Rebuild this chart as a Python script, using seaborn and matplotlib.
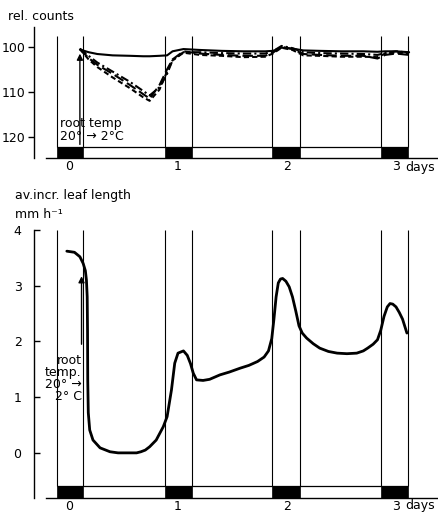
import numpy as np
import pandas as pd
import matplotlib
matplotlib.use("Agg")
import matplotlib.pyplot as plt
import seaborn as sns
from matplotlib.patches import Rectangle

sns.set_theme(style="white")
plt.rcParams['font.family'] = ['DejaVu Sans']
plt.rcParams['text.color'] = 'black'
plt.rcParams['axes.labelcolor'] = 'black'
plt.rcParams['xtick.color'] = 'black'
plt.rcParams['ytick.color'] = 'black'

# ---------------- data ----------------
day_ticks = [0, 1, 2, 3]
day_labels = ["0", "1", "2", "3"]
dark_start = [-0.11, 0.88, 1.865, 2.865]
dark_end = [0.13, 1.13, 2.12, 3.11]

top_days = [0.10, 0.18, 0.26, 0.40, 0.56, 0.68, 0.74, 0.83, 0.90, 0.95, 1.05, 1.20,
            1.40, 1.60, 1.80, 1.87, 1.95, 2.05, 2.15, 2.30, 2.50, 2.70, 2.83, 2.90,
            3.00, 3.12]
counts_solid = [100.6, 101.2, 101.6, 101.9, 102.0, 102.1, 102.1, 102.0, 101.9, 101.0,
                100.5, 100.7, 100.9, 101.0, 101.0, 100.9, 100.2, 100.4, 100.8, 100.9,
                101.0, 101.0, 101.1, 101.0, 101.0, 101.2]
counts_dash1 = [100.5, 102.5, 104.0, 106.0, 108.5, 110.5, 111.5, 108.5, 105.0, 102.8,
                101.0, 101.5, 101.8, 102.0, 102.0, 101.3, 100.0, 100.5, 101.6, 101.8,
                102.0, 102.0, 102.6, 101.8, 101.5, 101.8]
counts_dashdot = [100.4, 102.0, 103.5, 105.5, 107.8, 109.8, 110.8, 109.0, 106.0, 103.0,
                  101.2, 101.2, 101.4, 101.5, 101.5, 101.0, 99.8, 100.3, 101.2, 101.4,
                  101.5, 101.6, 101.8, 101.4, 101.0, 101.3]
counts_dash2 = [100.5, 102.8, 104.5, 106.8, 109.2, 111.2, 112.0, 109.5, 105.5, 103.0,
                101.3, 101.8, 102.0, 102.3, 102.2, 101.5, 100.2, 100.7, 101.9, 102.0,
                102.2, 102.2, 102.3, 101.5, 101.3, 101.5]

leaf_days = [-0.02, 0.05, 0.10, 0.13, 0.15, 0.16, 0.167, 0.170, 0.172, 0.177, 0.19,
             0.22, 0.285, 0.376, 0.45, 0.55, 0.62, 0.66, 0.70, 0.74, 0.80, 0.865, 0.90,
             0.94, 0.97, 1.00, 1.05, 1.085, 1.115, 1.14, 1.17, 1.23, 1.29, 1.385, 1.47,
             1.57, 1.65, 1.73, 1.79, 1.83, 1.86, 1.88, 1.90, 1.92, 1.94, 1.96, 1.99,
             2.02, 2.05, 2.08, 2.11, 2.14, 2.18, 2.24, 2.30, 2.38, 2.46, 2.55, 2.64,
             2.70, 2.74, 2.79, 2.83, 2.86, 2.89, 2.92, 2.945, 2.97, 3.00, 3.03, 3.06,
             3.10]
leaf_rate = [3.62, 3.60, 3.52, 3.40, 3.27, 3.10, 2.80, 2.20, 1.30, 0.72, 0.41,
             0.23, 0.09, 0.02, 0.0, 0.0, 0.0, 0.02, 0.05, 0.11, 0.23, 0.47, 0.65,
             1.13, 1.61, 1.79, 1.83, 1.75, 1.60, 1.43, 1.31, 1.30, 1.32, 1.40, 1.45,
             1.52, 1.57, 1.64, 1.72, 1.83, 2.05, 2.40, 2.80, 3.05, 3.12, 3.13, 3.08,
             2.98, 2.80, 2.55, 2.28, 2.15, 2.06, 1.96, 1.88, 1.82, 1.79, 1.78, 1.79,
             1.83, 1.88, 1.95, 2.03, 2.20, 2.45, 2.62, 2.68, 2.67, 2.62, 2.52, 2.40,
             2.15]

# ---------------- figure ----------------
W, H = 439, 512
fig = plt.figure(figsize=(W / 100, H / 100), dpi=100)
fig.patch.set_facecolor("white")
ax1 = fig.add_axes([46 / W, 1 - 158 / H, (437 - 46) / W, (158 - 27) / H])
ax2 = fig.add_axes([46 / W, 1 - 498 / H, (437 - 46) / W, (498 - 230) / H])

xlim = (-0.211, 3.376)

# ---- top panel ----
df_top = pd.concat([
    pd.DataFrame({"day": top_days, "counts": counts_solid, "series": "a"}),
    pd.DataFrame({"day": top_days, "counts": counts_dash1, "series": "b"}),
    pd.DataFrame({"day": top_days, "counts": counts_dashdot, "series": "c"}),
    pd.DataFrame({"day": top_days, "counts": counts_dash2, "series": "d"}),
])
sns.lineplot(data=df_top, x="day", y="counts", hue="series", style="series",
             palette={"a": "black", "b": "black", "c": "black", "d": "black"},
             dashes={"a": "", "b": (5, 2), "c": (4, 1.5, 1, 1.5), "d": (2.5, 1.5)},
             linewidth=1.5, legend=False, sort=False, estimator=None, ax=ax1)
ax1.set_xlim(*xlim)
ax1.set_ylim(124.7, 95.6)

strip1_top, strip1_bot = 122.3, 124.7
for s, e in zip(dark_start, dark_end):
    ax1.add_patch(Rectangle((s, strip1_top), e - s, strip1_bot - strip1_top,
                            facecolor="black", edgecolor="black", lw=0.5, clip_on=False))
    ax1.vlines([s, e], 97.6, strip1_top, color="black", lw=0.8)
ax1.hlines(strip1_top, dark_start[0], dark_end[-1], color="black", lw=0.9)
ax1.annotate("", xy=(0.10, 100.9), xytext=(0.10, strip1_top),
             arrowprops=dict(arrowstyle="-|>", color="black", lw=1.0, mutation_scale=9))
ax1.text(-0.083, 115.6, "root temp\n20° → 2°C", ha="left", va="top",
         fontsize=9, linespacing=0.95, color="black")

# ---- bottom panel ----
df_leaf = pd.DataFrame({"day": leaf_days, "rate": leaf_rate})
sns.lineplot(data=df_leaf, x="day", y="rate", color="black", linewidth=2.0,
             sort=False, estimator=None, ax=ax2)
ax2.set_xlim(*xlim)
ax2.set_ylim(-0.81, 4.0)

strip2_top, strip2_bot = -0.59, -0.81
for s, e in zip(dark_start, dark_end):
    ax2.add_patch(Rectangle((s, strip2_bot), e - s, strip2_top - strip2_bot,
                            facecolor="black", edgecolor="black", lw=0.5, clip_on=False))
    ax2.vlines([s, e], strip2_top, 4.0, color="black", lw=0.8)
ax2.hlines(strip2_top, dark_start[0], dark_end[-1], color="black", lw=0.9)
ax2.annotate("", xy=(0.115, 3.22), xytext=(0.115, 1.9),
             arrowprops=dict(arrowstyle="-|>", color="black", lw=1.0, mutation_scale=9))
ax2.text(0.115, 1.78, "root\ntemp.\n20° →\n2° C", ha="right", va="top",
         fontsize=9, linespacing=0.92, color="black")

# ---- axes styling ----
for ax in (ax1, ax2):
    ax.set_facecolor("white")
    ax.set_xlabel("")
    ax.set_ylabel("")
    for sp in ("top", "right"):
        ax.spines[sp].set_visible(False)
    ax.spines["left"].set_position(("outward", 8.6))
    ax.spines["left"].set_color("black")
    ax.spines["bottom"].set_color("black")
    ax.spines["left"].set_linewidth(1.0)
    ax.spines["bottom"].set_linewidth(1.0)
    ax.set_xticks(day_ticks)
    ax.set_xticklabels(day_labels)
    ax.tick_params(axis="x", length=0, pad=1.5, labelsize=9, colors="black")
    ax.grid(False)

ax1.set_yticks([100, 110, 120])
ax1.tick_params(axis="y", direction="out", length=4, width=1, pad=2,
                labelsize=9, colors="black", left=True)
ax2.set_yticks([0, 1, 2, 3, 4])
ax2.tick_params(axis="y", direction="in", length=4, width=1, pad=9,
                labelsize=9, colors="black", left=True)

fig.text(8 / W, 1 - 20 / H, "rel. counts", ha="left", va="baseline", fontsize=9)
fig.text(15 / W, 1 - 199 / H, "av.incr. leaf length", ha="left", va="baseline", fontsize=9)
fig.text(15 / W, 1 - 218 / H, "mm h⁻¹", ha="left", va="baseline", fontsize=9)
fig.text(405 / W, 1 - 170.5 / H, "days", ha="left", va="baseline", fontsize=9)
fig.text(405 / W, 1 - 509.5 / H, "days", ha="left", va="baseline", fontsize=9)

fig.savefig("out.png", dpi=100, facecolor="white")
